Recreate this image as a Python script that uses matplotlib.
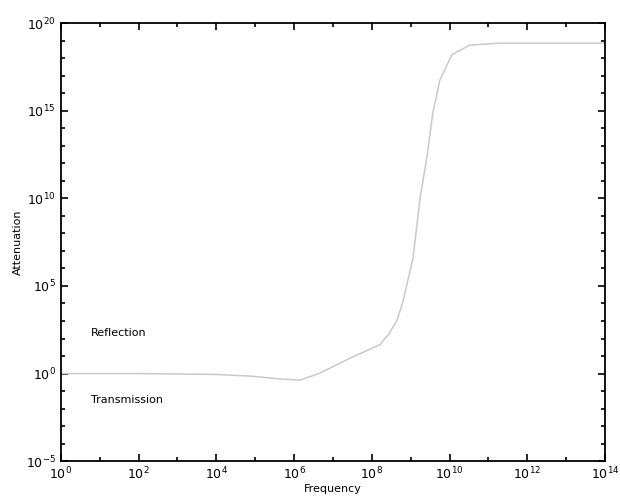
import matplotlib
matplotlib.use("Agg")
import matplotlib.pyplot as plt
from matplotlib.ticker import FixedLocator, LogFormatterMathtext, NullFormatter

# Curve (log10 of frequency, log10 of attenuation)
log_freq = [0.0, 2.0, 4.0, 4.9, 5.6, 6.15, 6.66, 7.44, 8.21, 8.45, 8.65, 8.8, 9.06, 9.24, 9.42, 9.57, 9.75, 10.06, 10.52, 11.3, 14.0]
log_atten = [0.0, 0.0, -0.05, -0.15, -0.3, -0.38, 0.02, 0.88, 1.65, 2.3, 3.05, 4.1, 6.6, 10.0, 12.4, 14.9, 16.75, 18.2, 18.75, 18.86, 18.86]
freq = [10.0 ** v for v in log_freq]
atten = [10.0 ** v for v in log_atten]

x_major = [10.0 ** k for k in range(0, 15, 2)]
x_minor = [10.0 ** k for k in range(1, 15, 2)]
y_major = [10.0 ** k for k in range(-5, 21, 5)]
y_minor = [10.0 ** k for k in range(-5, 21)]

fig = plt.figure(figsize=(6.2, 5.04), dpi=100)
ax = fig.add_axes([0.098, 0.085, 0.878, 0.869])
ax.plot(freq, atten, color="#c9c9c9", lw=1.1)
ax.set_xscale("log")
ax.set_yscale("log")
ax.set_xlim(1e0, 1e14)
ax.set_ylim(1e-5, 1e20)
ax.xaxis.set_major_locator(FixedLocator(x_major))
ax.xaxis.set_minor_locator(FixedLocator(x_minor))
ax.yaxis.set_major_locator(FixedLocator(y_major))
ax.yaxis.set_minor_locator(FixedLocator(y_minor))
ax.xaxis.set_major_formatter(LogFormatterMathtext())
ax.yaxis.set_major_formatter(LogFormatterMathtext())
ax.xaxis.set_minor_formatter(NullFormatter())
ax.yaxis.set_minor_formatter(NullFormatter())
ax.tick_params(which="both", direction="in", top=True, right=True, labelsize=9, width=1.2)
ax.tick_params(which="major", length=5)
ax.tick_params(which="minor", length=3)
for s in ax.spines.values():
    s.set_linewidth(1.3)

ax.text(6, 10 ** 2.3, "Reflection", fontsize=8, va="center")
ax.text(6, 10 ** -1.5, "Transmission", fontsize=8, va="center")
ax.set_xlabel("Frequency", fontsize=8, labelpad=1)
ax.set_ylabel("Attenuation", fontsize=8, labelpad=2)

fig.savefig("out.png", dpi=100)
